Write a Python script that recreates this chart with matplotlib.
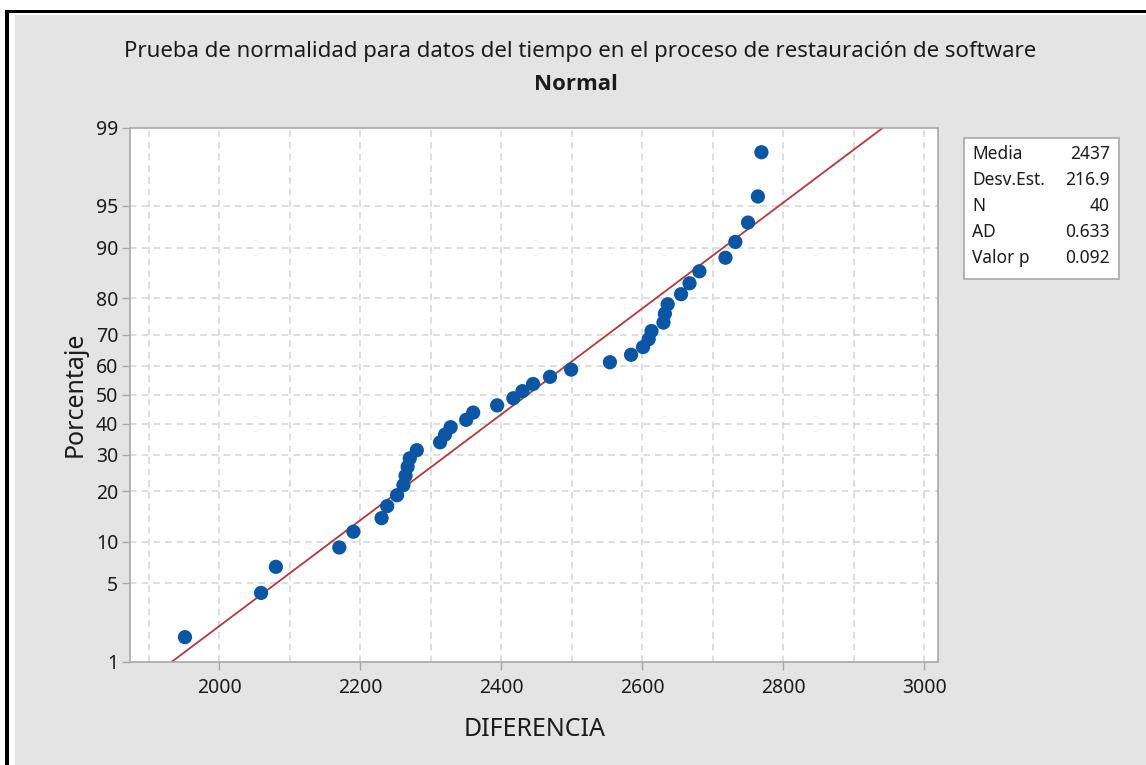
import numpy as np
import matplotlib
matplotlib.use("Agg")
import matplotlib.pyplot as plt
from matplotlib.patches import Rectangle
from statistics import NormalDist

plt.rcParams['font.family'] = ['Noto Sans', 'DejaVu Sans']

# datos (ordenados)
diferencia = [1951, 2059, 2080, 2170, 2190, 2230, 2238, 2252, 2261, 2264,
              2267, 2270, 2280, 2313, 2320, 2328, 2350, 2360, 2394, 2417,
              2430, 2445, 2469, 2499, 2554, 2584, 2601, 2609, 2613, 2630,
              2632, 2636, 2655, 2667, 2681, 2718, 2732, 2750, 2764, 2769]

media = 2437
desv_est = 216.9
n = 40
ad = 0.633
valor_p = 0.092

pct_ticks = [1, 5, 10, 20, 30, 40, 50, 60, 70, 80, 90, 95, 99]
x_ticks = [2000, 2200, 2400, 2600, 2800, 3000]
x_grid = list(range(1900, 3001, 100))

nd = NormalDist()
W, H = 1146, 765
TXT = '#1c1c1c'


def fx(px):
    return px / W


def fy(py):
    return 1 - py / H


fig = plt.figure(figsize=(W / 100, H / 100), dpi=100, facecolor='white')

# marco negro + fondo gris
fig.patches.append(Rectangle((fx(5), 0), 1.2, fy(10), transform=fig.transFigure,
                             facecolor='black', edgecolor='none', zorder=-3))
fig.patches.append(Rectangle((fx(9), 0), 1.2, fy(13), transform=fig.transFigure,
                             facecolor='white', edgecolor='none', zorder=-2))
fig.patches.append(Rectangle((fx(15), 0), 1.2, fy(15), transform=fig.transFigure,
                             facecolor='#e4e4e4', edgecolor='none', zorder=-1))

ax = fig.add_axes([fx(130), fy(661.7), (938.3 - 130) / W, (661.7 - 127.7) / H])
ax.set_facecolor('white')

# posiciones de rango mediano (Benard)
rangos = np.arange(1, len(diferencia) + 1)
p = (rangos - 0.3) / (len(diferencia) + 0.4)
z = np.array([nd.inv_cdf(v) for v in p])

# linea ajustada
z_lo, z_hi = nd.inv_cdf(0.01), nd.inv_cdf(0.99)
ax.plot([media + desv_est * z_lo, media + desv_est * z_hi], [z_lo, z_hi],
        color='#b23a3a', lw=1.3, zorder=2)

ax.scatter(diferencia, z, s=105, color='#0b55a5', edgecolors='none', zorder=3)

ax.set_xlim(1873, 3020)
ax.set_ylim(z_lo, z_hi)

ax.set_xticks(x_ticks)
ax.set_xticklabels([str(t) for t in x_ticks])
ax.set_yticks([nd.inv_cdf(t / 100) for t in pct_ticks])
ax.set_yticklabels([str(t) for t in pct_ticks])

for g in x_grid:
    ax.axvline(g, color='#d8d8d8', lw=1.2, ls=(0, (4, 3)), zorder=0)
for t in pct_ticks[1:-1]:
    ax.axhline(nd.inv_cdf(t / 100), color='#d8d8d8', lw=1.2, ls=(0, (4, 3)), zorder=0)

for s in ax.spines.values():
    s.set_color('#a8a8a8')
    s.set_linewidth(1.2)
ax.tick_params(axis='both', direction='out', length=5.5, width=1, color='#a8a8a8',
               labelsize=14, labelcolor=TXT)
ax.tick_params(axis='x', pad=6)
ax.tick_params(axis='y', pad=3)

ax.set_xlabel('DIFERENCIA', fontsize=18, color=TXT, labelpad=14)
ax.set_ylabel('Porcentaje', fontsize=18, color=TXT, labelpad=6)

fig.text(fx(580), fy(52), 'Prueba de normalidad para datos del tiempo en el proceso de restauración de software',
         ha='center', va='center', fontsize=16, color=TXT)
fig.text(fx(576), fy(84), 'Normal', ha='center', va='center', fontsize=16,
         color=TXT, fontweight='bold', family=['Open Sans', 'Roboto', 'DejaVu Sans'])

# cuadro de estadisticos
fig.patches.append(Rectangle((fx(964), fy(279)), (1119 - 964) / W, (279 - 138) / H,
                             transform=fig.transFigure, facecolor='white',
                             edgecolor='#a8a8a8', lw=1.2))
etiquetas = ['Media', 'Desv.Est.', 'N', 'AD', 'Valor p']
valores = [f'{media}', f'{desv_est}', f'{n}', f'{ad:.3f}', f'{valor_p:.3f}']
for k, (et, va) in enumerate(zip(etiquetas, valores)):
    yy = fy(154 + k * 26)
    fig.text(fx(972), yy, et, ha='left', va='center', fontsize=12.5, color=TXT)
    fig.text(fx(1110), yy, va, ha='right', va='center', fontsize=12.5, color=TXT)

fig.savefig('out.png', dpi=100, facecolor=fig.get_facecolor())
